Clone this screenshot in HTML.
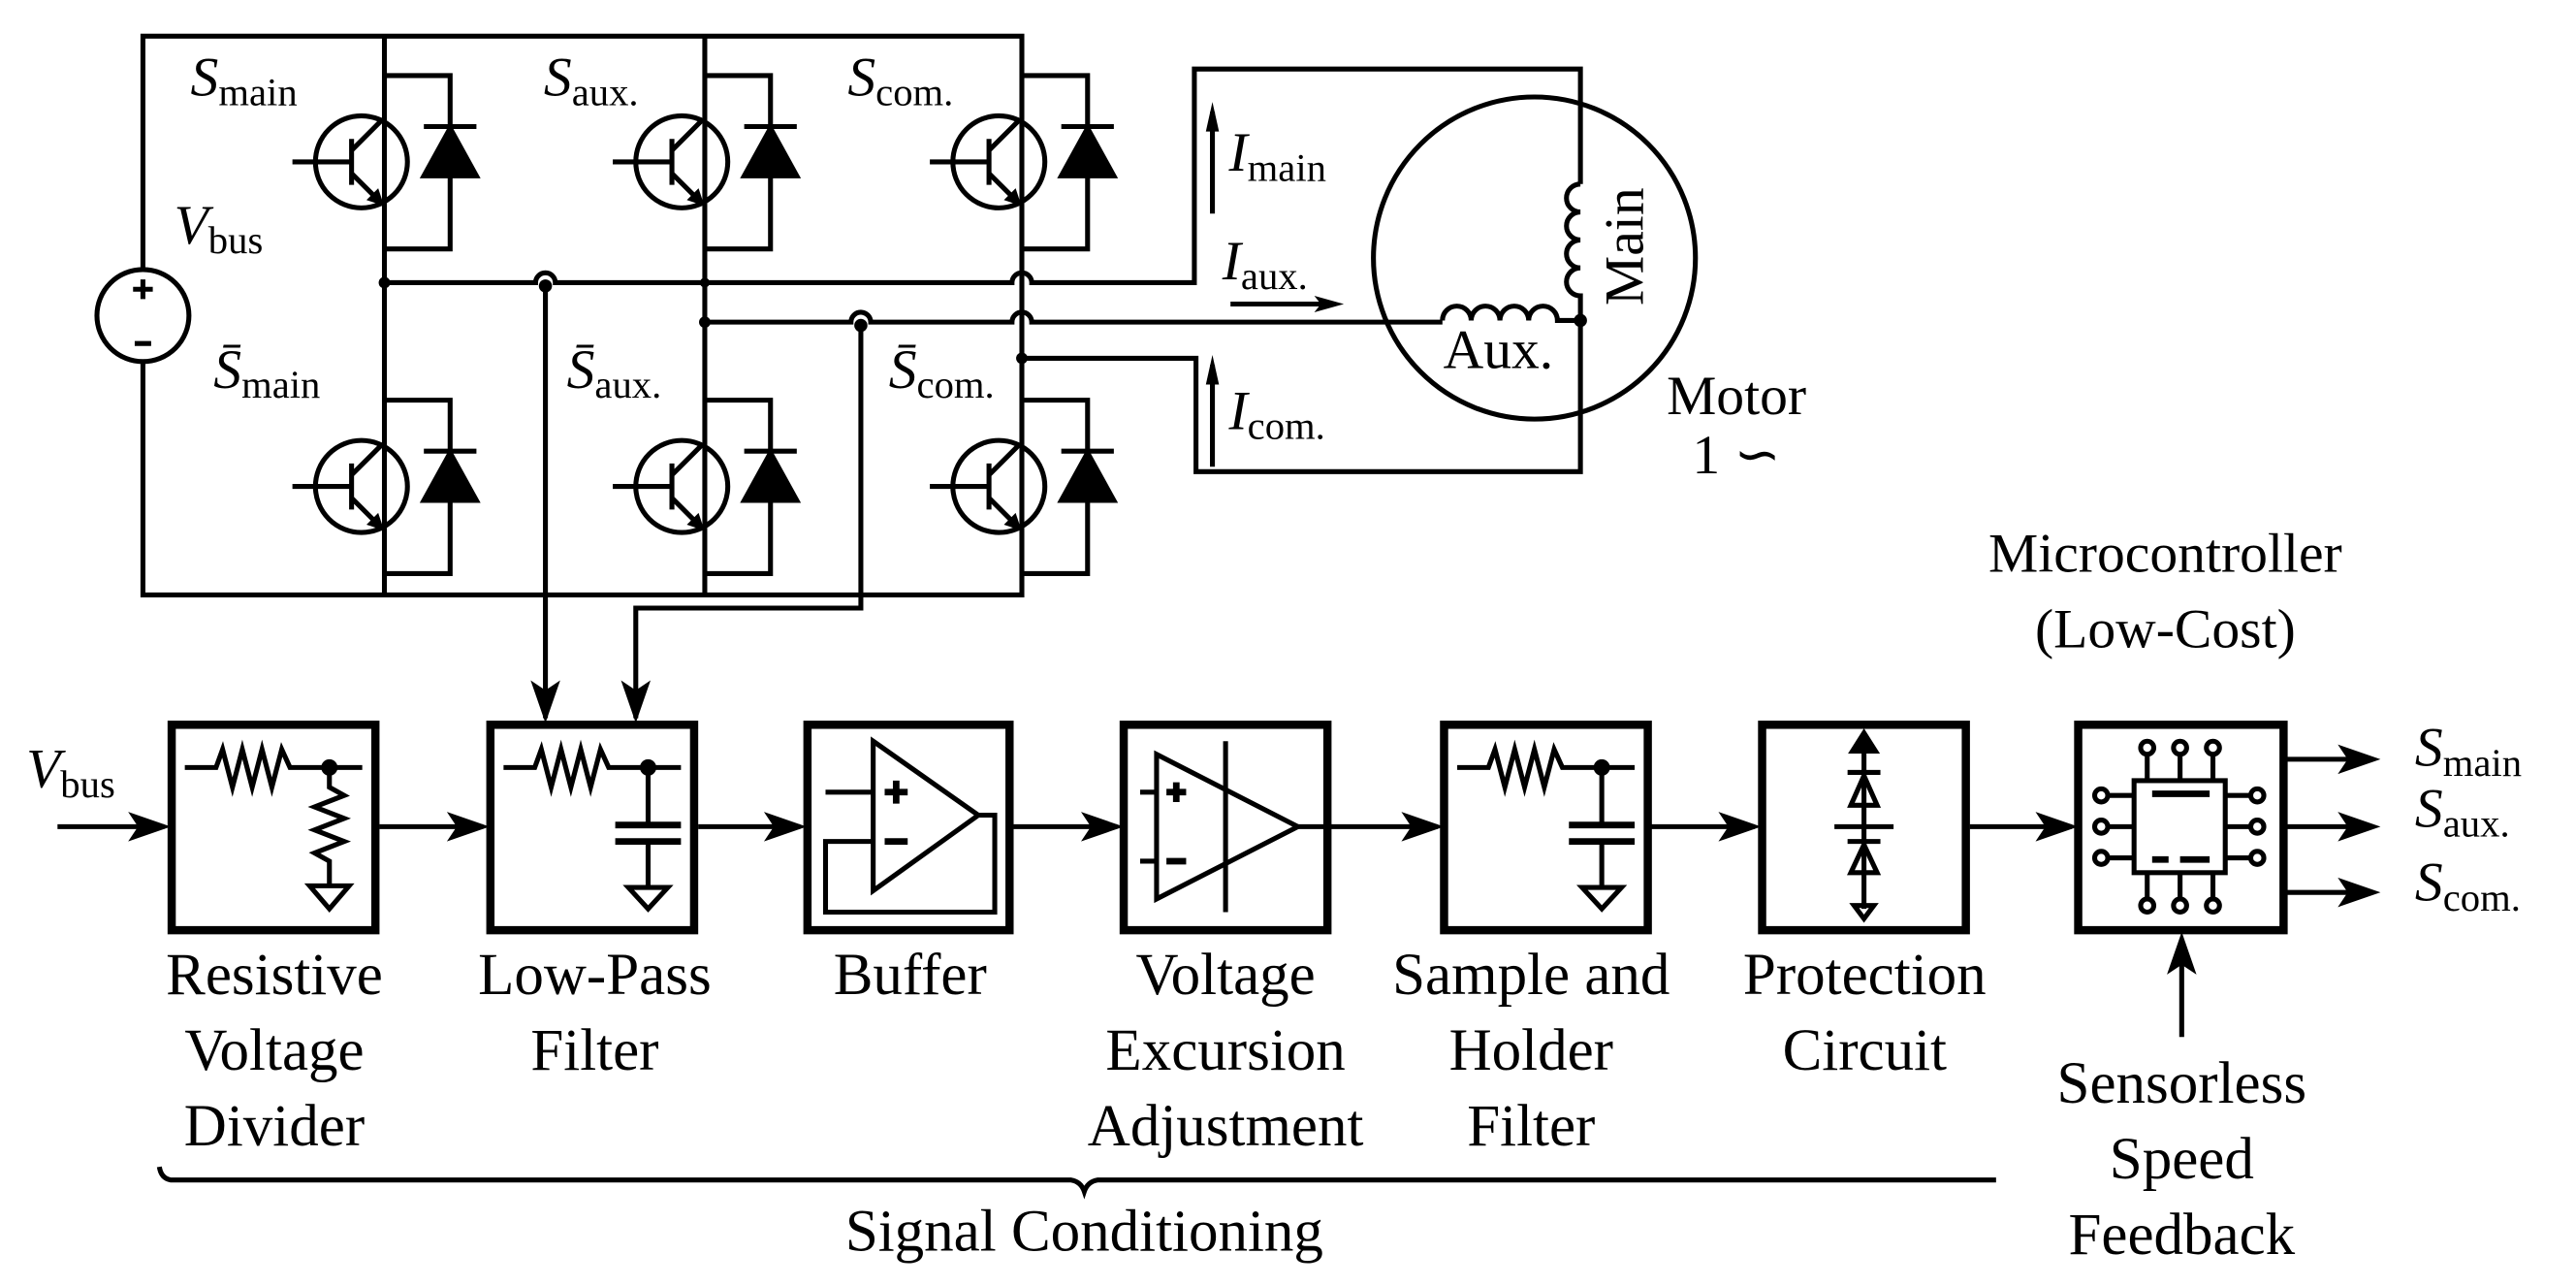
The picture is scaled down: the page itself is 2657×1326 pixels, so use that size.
<!DOCTYPE html>
<html><head><meta charset="utf-8"><style>
html,body{margin:0;padding:0;background:#fff}
svg{display:block}
text{font-family:"Liberation Serif",serif;fill:#000}
</style></head><body>
<svg width="2657" height="1326" viewBox="0 0 1568 782.5" preserveAspectRatio="none" xmlns="http://www.w3.org/2000/svg">
<defs>
<g id="tr" fill="none" stroke="#000" stroke-width="3">
  <circle cx="0" cy="0" r="28"/>
  <path d="M-42,0 H-6 M-6,-14 V14 M-6,-7 L13,-26 M-6,7 L13,26 M14,-52.5 H54 V53 H14"/>
  <path d="M13,26 L4,23 L10,17 Z" fill="#000" stroke-width="1"/>
  <path d="M38,8.5 L70,8.5 L54,-20.5 Z" fill="#000"/>
  <path d="M38,-21.5 H70"/>
</g>
<g id="rc" fill="none" stroke="#000" stroke-width="3">
  <path d="M8,26 H27 L31,15 L37,38 L43,15 L49,38 L55,15 L61,38 L67,15 L72,26 H116"/>
  <circle cx="96" cy="26" r="3.5" fill="#000"/>
  <path d="M96,26 V61 M96,71 V99"/>
  <path d="M76,61 H116 M76,71 H116" stroke-width="4"/>
  <path d="M84,99 H108 L96,112 Z"/>
</g>
</defs>

<g fill="none" stroke="#000" stroke-width="3">
  <rect x="87" y="22" width="535" height="340"/>
  <path d="M234,22 V362 M429,22 V362"/>
</g>
<use href="#tr" x="220" y="98.5"/><use href="#tr" x="415" y="98.5"/><use href="#tr" x="608" y="98.5"/>
<use href="#tr" x="220" y="296"/><use href="#tr" x="415" y="296"/><use href="#tr" x="608" y="296"/>
<ellipse cx="87" cy="192" rx="28" ry="28" fill="#fff" stroke="#000" stroke-width="3"/>
<path d="M81,176 H93 M87,170 V182 M82,209 H92" stroke="#000" stroke-width="3"/>

<g fill="none" stroke="#000" stroke-width="3">
  <path d="M234,172 H326 A6,6 0 0 1 338,172 H616 A6,6 0 0 1 628,172 H727 V42 H962 V112"/>
  <path d="M962,112 a8.5,8.5 0 0 0 0,17 a8.5,8.5 0 0 0 0,17 a8.5,8.5 0 0 0 0,17 a8.5,8.5 0 0 0 0,17 V287 H728 V218 H622"/>
  <path d="M429,196 H518 A6,6 0 0 1 530,196 H616 A6,6 0 0 1 628,196 H878"/>
  <path d="M878,195 a8.75,8.75 0 0 1 17.5,0 a8.75,8.75 0 0 1 17.5,0 a8.75,8.75 0 0 1 17.5,0 a8.75,8.75 0 0 1 17.5,0 H962"/>
  <path d="M332,174 V437"/>
  <path d="M524,198 V370 H387 V437"/>
  <ellipse cx="934" cy="157" rx="98" ry="98"/>
  <path d="M738,130 V68 M738,284 V222 M749,185 H810"/>
</g>
<g fill="#000">
  <circle cx="234" cy="172" r="3.5"/><circle cx="429" cy="172" r="3"/><circle cx="429" cy="196" r="3.5"/>
  <circle cx="622" cy="218" r="3.5"/><circle cx="962" cy="195" r="4"/>
  <circle cx="332" cy="174" r="4"/><circle cx="524" cy="198" r="4"/>
  <path d="M738,62 L734,80 L742,80 Z"/><path d="M738,216 L734,234 L742,234 Z"/>
  <path d="M818,185 L800,180 L804,185 L800,190 Z"/>
</g>

<g font-size="34">
  <text x="116" y="58" font-style="italic">S<tspan font-style="normal" font-size="24" dy="6">main</tspan></text>
  <text x="331" y="58" font-style="italic">S<tspan font-style="normal" font-size="24" dy="6">aux.</tspan></text>
  <text x="516" y="58" font-style="italic">S<tspan font-style="normal" font-size="24" dy="6">com.</tspan></text>
  <text x="106" y="148" font-style="italic">V<tspan font-style="normal" font-size="24" dy="6">bus</tspan></text>
  <text x="130" y="236" font-style="italic">S̄<tspan font-style="normal" font-size="24" dy="6">main</tspan></text>
  <text x="345" y="236" font-style="italic">S̄<tspan font-style="normal" font-size="24" dy="6">aux.</tspan></text>
  <text x="541" y="236" font-style="italic">S̄<tspan font-style="normal" font-size="24" dy="6">com.</tspan></text>
  <text x="748" y="104" font-style="italic">I<tspan font-style="normal" font-size="24" dy="6">main</tspan></text>
  <text x="744" y="170" font-style="italic">I<tspan font-style="normal" font-size="24" dy="6">aux.</tspan></text>
  <text x="748" y="261" font-style="italic">I<tspan font-style="normal" font-size="24" dy="6">com.</tspan></text>
  <text x="912" y="224" text-anchor="middle">Aux.</text>
  <text transform="translate(1000,150) rotate(-90)" text-anchor="middle">Main</text>
  <text x="1057" y="252" text-anchor="middle">Motor</text>
  <text x="1057" y="288" text-anchor="middle">1 ∽</text>
  <text x="1318" y="348" text-anchor="middle">Microcontroller</text>
  <text x="1318" y="394" text-anchor="middle">(Low-Cost)</text>
</g>

<g fill="none" stroke="#000" stroke-width="5">
  <rect x="104.5" y="441" width="124" height="125"/>
  <rect x="298.5" y="441" width="124" height="125"/>
  <rect x="491.5" y="441" width="123" height="125"/>
  <rect x="684" y="441" width="124" height="125"/>
  <rect x="879" y="441" width="124" height="125"/>
  <rect x="1072.6" y="441" width="124" height="125"/>
  <rect x="1265" y="441" width="125" height="125"/>
</g>
<g fill="none" stroke="#000" stroke-width="3" transform="translate(104.5,441)">
  <path d="M8,26 H27 L31,15 L37,38 L43,15 L49,38 L55,15 L61,38 L67,15 L72,26 H116"/>
  <circle cx="96" cy="26" r="3.5" fill="#000"/>
  <path d="M96,26 V38 L105,43 L87,50 L105,57 L87,64 L105,71 L87,78 L96,83 V98"/>
  <path d="M84,98 H108 L96,112 Z"/>
</g>
<use href="#rc" x="298.5" y="441"/>
<use href="#rc" x="879" y="441"/>
<g fill="none" stroke="#000" stroke-width="3" transform="translate(491.5,441)">
  <path d="M40,10 L104,55 L40,101 Z"/>
  <path d="M11,41 H40 M104,55 H114 V114 H11 V71 H40"/>
  <path d="M47,41 H61 M54,34 V48 M47,71 H61" stroke-width="4"/>
</g>
<g fill="none" stroke="#000" stroke-width="3" transform="translate(684,441)">
  <path d="M20,18 L106,62 L20,106 Z"/>
  <path d="M62,10 V114 M10,41 H20 M10,83 H20 M106,62 H124"/>
  <path d="M26,41 H38 M32,35 V47 M26,83 H38" stroke-width="4"/>
</g>
<g fill="none" stroke="#000" stroke-width="3" transform="translate(1072.6,441)">
  <path d="M62,12 V112"/>
  <path d="M62,5 L55,16 H69 Z" fill="#000"/>
  <path d="M52,29 H72 M62,31 L54,49 H70 Z M44,62 H80 M52,71 H72 M62,73 L54,90 H70 Z"/>
  <path d="M56,110 H68 L62,118 Z"/>
</g>
<g fill="none" stroke="#000" stroke-width="3" transform="translate(1265,441)">
  <rect x="34" y="34" width="55.5" height="56"/>
  <path d="M42,18 V34 M62,18 V34 M82,18 V34 M42,90 V106 M62,90 V106 M82,90 V106 M18,43 H34 M18,62 H34 M18,81 H34 M89,43 H105 M89,62 H105 M89,81 H105"/>
  <circle cx="42" cy="14" r="4"/><circle cx="62" cy="14" r="4"/><circle cx="82" cy="14" r="4"/>
  <circle cx="42" cy="110" r="4"/><circle cx="62" cy="110" r="4"/><circle cx="82" cy="110" r="4"/>
  <circle cx="14" cy="43" r="4"/><circle cx="14" cy="62" r="4"/><circle cx="14" cy="81" r="4"/>
  <circle cx="109" cy="43" r="4"/><circle cx="109" cy="62" r="4"/><circle cx="109" cy="81" r="4"/>
  <path d="M45,42 H80 M45,82 H55 M62,82 H80" stroke-width="4"/>
</g>

<g fill="none" stroke="#000" stroke-width="3">
  <path d="M35,503 H100 M231,503 H294 M425,503 H487 M617,503 H680 M810,503 H875 M1005,503 H1068 M1199,503 H1261"/>
  <path d="M1390,462 H1442 M1390,503 H1442 M1390,543 H1442 M1328,631 V572"/>
</g>
<g fill="#000">
  <path d="M104,503 L78,494 L84,503 L78,512 Z"/>
  <path d="M298,503 L272,494 L278,503 L272,512 Z"/>
  <path d="M491,503 L465,494 L471,503 L465,512 Z"/>
  <path d="M684,503 L658,494 L664,503 L658,512 Z"/>
  <path d="M879,503 L853,494 L859,503 L853,512 Z"/>
  <path d="M1072,503 L1046,494 L1052,503 L1046,512 Z"/>
  <path d="M1265,503 L1239,494 L1245,503 L1239,512 Z"/>
  <path d="M1449,462 L1423,453 L1429,462 L1423,471 Z"/>
  <path d="M1449,503 L1423,494 L1429,503 L1423,512 Z"/>
  <path d="M1449,543 L1423,534 L1429,543 L1423,552 Z"/>
  <path d="M1328,567 L1319,593 L1328,587 L1337,593 Z"/>
  <path d="M332,440 L323,414 L332,420 L341,414 Z"/>
  <path d="M387,440 L378,414 L387,420 L396,414 Z"/>
</g>

<g font-size="36" text-anchor="middle">
  <text x="167" y="605">Resistive</text><text x="167" y="651">Voltage</text><text x="167" y="697">Divider</text>
  <text x="362" y="605">Low-Pass</text><text x="362" y="651">Filter</text>
  <text x="554" y="605">Buffer</text>
  <text x="746" y="605">Voltage</text><text x="746" y="651">Excursion</text><text x="746" y="697">Adjustment</text>
  <text x="932" y="605">Sample and</text><text x="932" y="651">Holder</text><text x="932" y="697">Filter</text>
  <text x="1135" y="605">Protection</text><text x="1135" y="651">Circuit</text>
  <text x="1328" y="671">Sensorless</text><text x="1328" y="717">Speed</text><text x="1328" y="763">Feedback</text>
  <text x="660" y="761">Signal Conditioning</text>
</g>
<g font-size="34">
  <text x="16" y="479" font-style="italic">V<tspan font-style="normal" font-size="24" dy="6">bus</tspan></text>
  <text x="1470" y="466" font-style="italic">S<tspan font-style="normal" font-size="24" dy="6">main</tspan></text>
  <text x="1470" y="503" font-style="italic">S<tspan font-style="normal" font-size="24" dy="6">aux.</tspan></text>
  <text x="1470" y="548" font-style="italic">S<tspan font-style="normal" font-size="24" dy="6">com.</tspan></text>
</g>
<path d="M97,710 Q98,717 104,718 H652 Q658,719 660,725 Q662,719 668,718 H1215" fill="none" stroke="#000" stroke-width="3"/>
</svg>
</body></html>
